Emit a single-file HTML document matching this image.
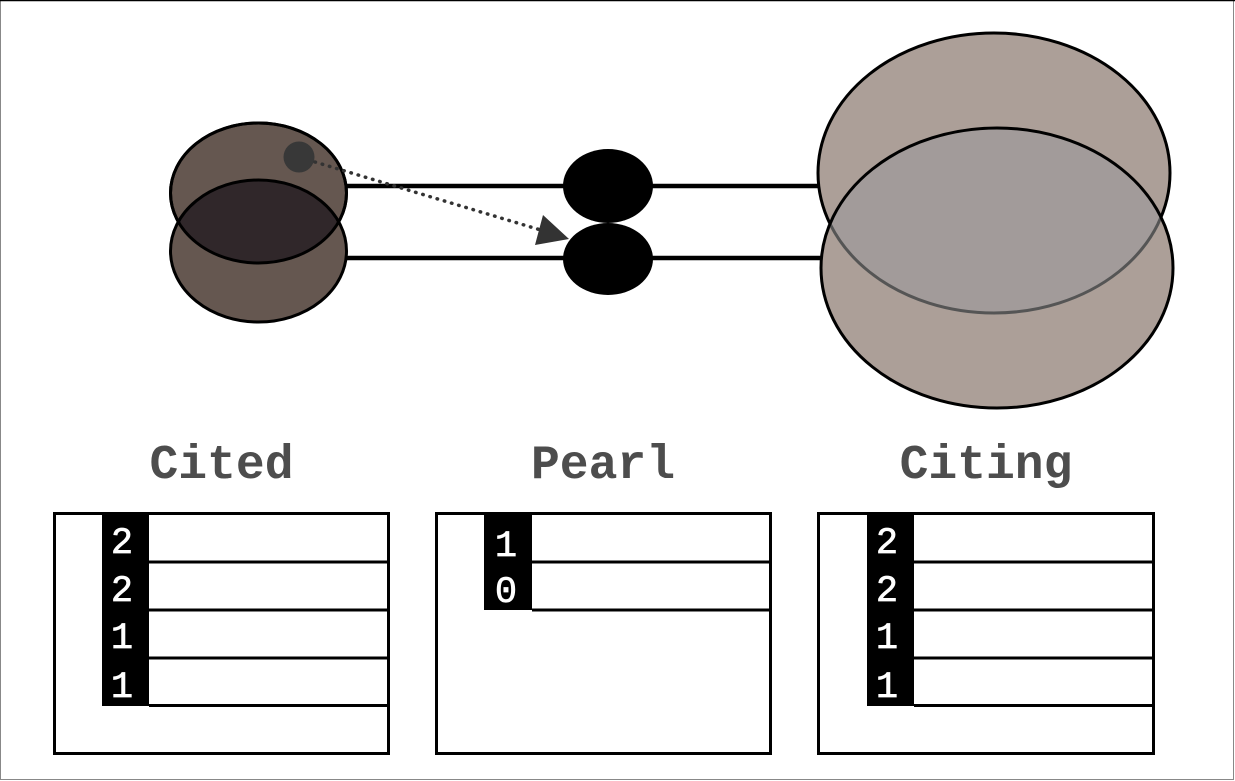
<!DOCTYPE html>
<html><head><meta charset="utf-8"><style>
html,body{margin:0;padding:0;background:#fff;}
svg{display:block;}
</style></head><body>
<svg width="1235" height="781" viewBox="0 0 1235 781" xmlns="http://www.w3.org/2000/svg">
<defs>
<clipPath id="cTop"><ellipse cx="258.5" cy="193" rx="88" ry="70"/></clipPath>
<clipPath id="rTop"><ellipse cx="994" cy="173" rx="176" ry="140"/></clipPath>
<clipPath id="rBot"><ellipse cx="997" cy="268" rx="176" ry="140"/></clipPath>
</defs>
<rect x="0" y="0" width="1235" height="781" fill="#fff"/>
<rect x="0.5" y="0.5" width="1233" height="779" fill="none" stroke="#888" stroke-width="1"/>
<line x1="0" y1="0.5" x2="1235" y2="0.5" stroke="#000" stroke-width="1.5"/>

<!-- connecting lines -->
<line x1="346" y1="186" x2="822" y2="186" stroke="#000" stroke-width="4.5"/>
<line x1="346" y1="258" x2="824" y2="258" stroke="#000" stroke-width="4.5"/>

<!-- Cited ellipses -->
<ellipse cx="258.5" cy="193" rx="88" ry="70" fill="#655750" stroke="#000" stroke-width="3"/>
<ellipse cx="258.5" cy="251" rx="88" ry="71" fill="#655750"/>
<ellipse cx="258.5" cy="251" rx="88" ry="71" fill="#30272a" clip-path="url(#cTop)"/>
<ellipse cx="258.5" cy="193" rx="88" ry="70" fill="none" stroke="#000" stroke-width="3"/>
<ellipse cx="258.5" cy="251" rx="88" ry="71" fill="none" stroke="#000" stroke-width="3"/>

<!-- Pearl ellipses -->
<ellipse cx="608" cy="186" rx="45" ry="37" fill="#000"/>
<ellipse cx="608" cy="259" rx="45" ry="36" fill="#000"/>

<!-- Citing ellipses -->
<ellipse cx="994" cy="173" rx="176" ry="140" fill="#ac9f98" stroke="#000" stroke-width="3"/>
<ellipse cx="997" cy="268" rx="176" ry="140" fill="#ac9f98"/>
<ellipse cx="997" cy="268" rx="176" ry="140" fill="#a29b9a" clip-path="url(#rTop)"/>
<ellipse cx="994" cy="173" rx="176" ry="140" fill="none" stroke="#555" stroke-width="3" clip-path="url(#rBot)"/>
<ellipse cx="997" cy="268" rx="176" ry="140" fill="none" stroke="#000" stroke-width="3"/>

<!-- small circle + dotted arrow -->
<circle cx="299" cy="157" r="15.5" fill="#383838"/>
<line x1="315" y1="162" x2="544" y2="231" stroke="#333" stroke-width="3.5" stroke-linecap="round" stroke-dasharray="0.5 7"/>
<polygon points="543,215 535,245 569,239" fill="#333"/>

<!-- headers -->
<g font-family="'Liberation Mono', 'Courier New', monospace" font-weight="bold" font-size="48" fill="#4d4d4d" text-anchor="middle">
<text x="221.5" y="478">Cited</text>
<text x="603" y="478">Pearl</text>
<text x="986" y="478">Citing</text>
</g>

<!-- Cited table -->
<rect x="54.5" y="513.5" width="334" height="240" fill="#fff" stroke="#000" stroke-width="3"/>
<rect x="102" y="513" width="47" height="193" fill="#000"/>
<g stroke="#000" stroke-width="3">
<line x1="149" y1="562" x2="388" y2="562"/>
<line x1="149" y1="610" x2="388" y2="610"/>
<line x1="149" y1="658" x2="388" y2="658"/>
<line x1="149" y1="705.5" x2="388" y2="705.5"/>
</g>
<g font-family="'Liberation Mono', 'Courier New', monospace" font-size="37" fill="#fff" stroke="#fff" stroke-width="0.7" text-anchor="middle">
<text x="122" y="553">2</text>
<text x="122" y="601">2</text>
<text x="122" y="648">1</text>
<text x="122" y="697">1</text>
</g>

<!-- Pearl table -->
<rect x="436.5" y="513.5" width="334" height="240" fill="#fff" stroke="#000" stroke-width="3"/>
<rect x="484" y="513" width="48" height="97" fill="#000"/>
<g stroke="#000" stroke-width="3">
<line x1="532" y1="562" x2="770" y2="562"/>
<line x1="532" y1="610" x2="770" y2="610"/>
</g>
<g font-family="'Liberation Mono', 'Courier New', monospace" font-size="37" fill="#fff" stroke="#fff" stroke-width="0.7" text-anchor="middle">
<text x="506" y="556">1</text>
<text x="506" y="602">0</text>
</g>

<!-- Citing table -->
<rect x="818.5" y="513.5" width="335" height="240" fill="#fff" stroke="#000" stroke-width="3"/>
<rect x="867" y="513" width="47" height="193" fill="#000"/>
<g stroke="#000" stroke-width="3">
<line x1="914" y1="562" x2="1153" y2="562"/>
<line x1="914" y1="610" x2="1153" y2="610"/>
<line x1="914" y1="658" x2="1153" y2="658"/>
<line x1="914" y1="705.5" x2="1153" y2="705.5"/>
</g>
<g font-family="'Liberation Mono', 'Courier New', monospace" font-size="37" fill="#fff" stroke="#fff" stroke-width="0.7" text-anchor="middle">
<text x="887" y="553">2</text>
<text x="887" y="601">2</text>
<text x="887" y="648">1</text>
<text x="887" y="697">1</text>
</g>
</svg>
</body></html>
